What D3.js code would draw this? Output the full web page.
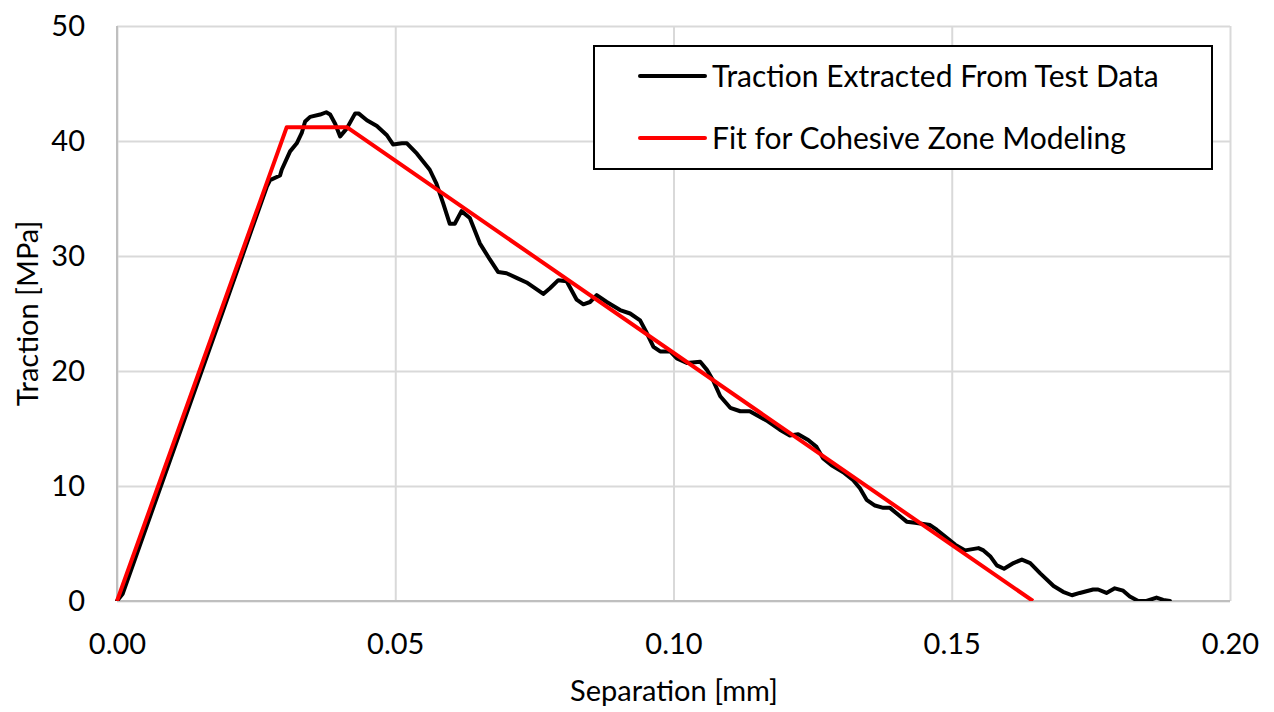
<!DOCTYPE html>
<html>
<head>
<meta charset="utf-8">
<script src="https://cdn.jsdelivr.net/npm/d3@7"></script>
<style>
  html, body { margin: 0; padding: 0; background: #fff; }
  svg { display: block; }
  text { font-family: Lato, "Open Sans", sans-serif; fill: #000; }
</style>
</head>
<body>
<svg id="chart" width="1274" height="712"></svg>
<script>
// ---- data ----
const seriesNames = ["Traction Extracted From Test Data", "Fit for Cohesive Zone Modeling"];
const xTicks = [0, 0.05, 0.10, 0.15, 0.20];
const yTicks = [0, 10, 20, 30, 40, 50];
const xTitle = "Separation [mm]";
const yTitle = "Traction [MPa]";

// test data: separation [mm]
const testSep = [0, 0.0010, 0.0191, 0.0269, 0.0275, 0.0293, 0.0296, 0.0311, 0.0323, 0.0332, 0.0338, 0.0347,
  0.0365, 0.0376, 0.0383, 0.0392, 0.0401, 0.0413, 0.0428, 0.0434, 0.0449, 0.0467, 0.0485, 0.0496, 0.0512,
  0.0521, 0.0539, 0.0562, 0.0574, 0.0586, 0.0598, 0.0607, 0.0619, 0.0634, 0.0652, 0.0670, 0.0685, 0.0700,
  0.0718, 0.0736, 0.0751, 0.0766, 0.0778, 0.0793, 0.0808, 0.0826, 0.0838, 0.0850, 0.0862, 0.0880, 0.0904,
  0.0922, 0.0940, 0.0952, 0.0964, 0.0976, 0.0994, 0.1006, 0.1024, 0.1048, 0.1060, 0.1072, 0.1084, 0.1102,
  0.1120, 0.1137, 0.1167, 0.1191, 0.1209, 0.1224, 0.1242, 0.1257, 0.1269, 0.1284, 0.1305, 0.1323, 0.1335,
  0.1347, 0.1362, 0.1377, 0.1389, 0.1404, 0.1419, 0.1434, 0.1461, 0.1473, 0.1491, 0.1506, 0.1524, 0.1548,
  0.1557, 0.1569, 0.1581, 0.1594, 0.1611, 0.1626, 0.1641, 0.1659, 0.1683, 0.1700, 0.1716, 0.1730, 0.1754,
  0.1763, 0.1778, 0.1793, 0.1808, 0.1820, 0.1835, 0.1850, 0.1868, 0.1880, 0.1892];
// test data: traction [MPa]
const testTraction = [0, 0.6, 25.3, 36.0, 36.6, 37.0, 37.5, 39.1, 39.8, 40.7, 41.7, 42.1,
  42.3, 42.5, 42.3, 41.5, 40.4, 41.1, 42.4, 42.4, 41.8, 41.3, 40.5, 39.7, 39.8,
  39.8, 38.9, 37.5, 36.3, 34.6, 32.8, 32.8, 33.9, 33.3, 31.1, 29.7, 28.6, 28.5,
  28.1, 27.7, 27.2, 26.7, 27.2, 27.9, 27.8, 26.2, 25.8, 26.0, 26.6, 26.0, 25.3,
  25.0, 24.4, 23.3, 22.1, 21.7, 21.7, 21.1, 20.7, 20.8, 20.1, 19.1, 17.8, 16.8,
  16.5, 16.5, 15.7, 14.9, 14.4, 14.5, 14.0, 13.4, 12.4, 11.8, 11.2, 10.5, 9.8,
  8.8, 8.3, 8.1, 8.1, 7.5, 6.9, 6.8, 6.6, 6.2, 5.5, 4.9, 4.4, 4.6,
  4.4, 3.9, 3.1, 2.8, 3.3, 3.6, 3.3, 2.4, 1.3, 0.8, 0.5, 0.7, 1.0,
  1.0, 0.7, 1.1, 0.9, 0.4, 0.0, 0.0, 0.3, 0.1, 0.0];

// cohesive zone fit (trapezoidal law)
const fitSep = [0, 0.0305, 0.0413, 0.1646];
const fitTraction = [0, 41.2, 41.2, 0];

const colors = ["#000000", "#ff0000"];

// ---- layout ----
const svg = d3.select("#chart");
const pL = 117, pR = 1230, pT = 26, pB = 601;

const x = d3.scaleLinear().domain([0, 0.2]).range([pL, pR]);
const y = d3.scaleLinear().domain([0, 50]).range([pB, pT]);

// gridlines
svg.append("g")
  .attr("transform", `translate(0,${pB})`)
  .call(d3.axisBottom(x).tickValues(xTicks).tickSize(-(pB - pT)).tickFormat(""))
  .call(g => g.select(".domain").remove())
  .call(g => g.selectAll("line").attr("stroke", "#d9d9d9").attr("stroke-width", 2));
svg.append("g")
  .attr("transform", `translate(${pL},0)`)
  .call(d3.axisLeft(y).tickValues(yTicks).tickSize(-(pR - pL)).tickFormat(""))
  .call(g => g.select(".domain").remove())
  .call(g => g.selectAll("line").attr("stroke", "#d9d9d9").attr("stroke-width", 2));

// axis lines
svg.append("line").attr("x1", x(0)).attr("x2", x(0)).attr("y1", y(50)).attr("y2", y(0))
  .attr("stroke", "#bfbfbf").attr("stroke-width", 2);
svg.append("line").attr("x1", x(0)).attr("x2", x(0.2)).attr("y1", y(0)).attr("y2", y(0))
  .attr("stroke", "#bfbfbf").attr("stroke-width", 2);

// tick labels
const fs = 29;
const xAxis = svg.append("g")
  .attr("transform", `translate(0,${pB})`)
  .call(d3.axisBottom(x).tickValues(xTicks).tickSize(0).tickPadding(32).tickFormat(d3.format(".2f")));
xAxis.select(".domain").remove();
xAxis.selectAll("text").attr("font-size", fs).attr("font-family", "Lato").attr("fill", "#000");

const yAxis = svg.append("g")
  .attr("transform", `translate(${pL},0)`)
  .call(d3.axisLeft(y).tickValues(yTicks).tickSize(0).tickPadding(32).tickFormat(d3.format("d")));
yAxis.select(".domain").remove();
yAxis.selectAll("text").attr("font-size", fs).attr("font-family", "Lato").attr("fill", "#000");

// axis titles
svg.append("text").attr("x", 674).attr("y", 701).attr("text-anchor", "middle")
  .attr("font-size", fs).text(xTitle);
svg.append("text").attr("transform", `translate(38,${(pT + pB) / 2}) rotate(-90)`)
  .attr("text-anchor", "middle").attr("font-size", fs).text(yTitle);

// clip
svg.append("clipPath").attr("id", "plotclip").append("rect")
  .attr("x", pL - 3).attr("y", pT - 3).attr("width", pR - pL + 6).attr("height", pB - pT + 3);

const line = d3.line().x(d => x(d[0])).y(d => y(d[1]));
const testData = testSep.map((s, i) => [s, testTraction[i]]);
const fitData = fitSep.map((s, i) => [s, fitTraction[i]]);

const plot = svg.append("g").attr("clip-path", "url(#plotclip)");
plot.append("path").datum(testData).attr("d", line)
  .attr("fill", "none").attr("stroke", colors[0]).attr("stroke-width", 4)
  .attr("stroke-linejoin", "round").attr("stroke-linecap", "round");
plot.append("path").datum(fitData).attr("d", line)
  .attr("fill", "none").attr("stroke", colors[1]).attr("stroke-width", 4)
  .attr("stroke-linejoin", "round").attr("stroke-linecap", "butt");

// legend
const lg = svg.append("g");
lg.append("rect").attr("x", 594).attr("y", 46).attr("width", 618).attr("height", 123)
  .attr("fill", "#fff").attr("stroke", "#000").attr("stroke-width", 2);
const legendY = [76, 138];
seriesNames.forEach((name, i) => {
  lg.append("line").attr("x1", 640).attr("x2", 705).attr("y1", legendY[i]).attr("y2", legendY[i])
    .attr("stroke", colors[i]).attr("stroke-width", 4).attr("stroke-linecap", "round");
  lg.append("text").attr("x", 712).attr("y", legendY[i]).attr("dy", "0.35em")
    .attr("font-size", 30).text(name);
});
</script>
</body>
</html>
